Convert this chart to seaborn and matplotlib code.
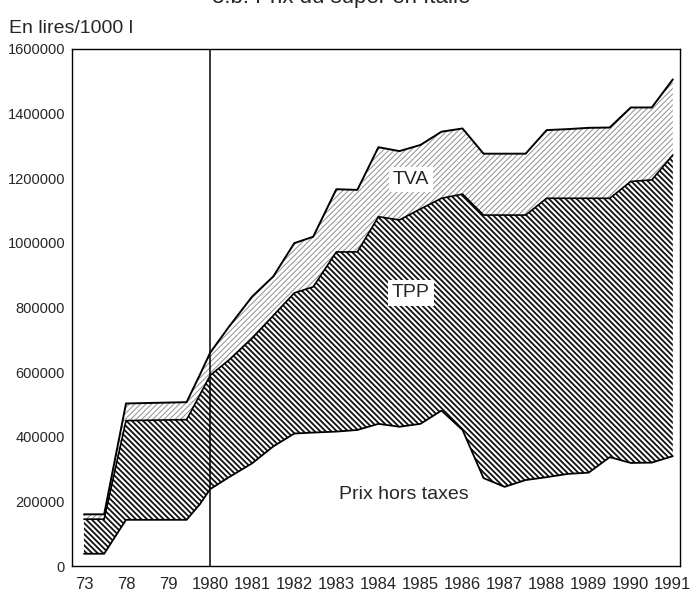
import numpy as np
import pandas as pd
import seaborn as sns
import matplotlib.pyplot as plt
from matplotlib.ticker import MultipleLocator

# ------------------ data (lires / 1000 l) ------------------
# x = position on the axis, one unit per labelled tick
tick_labels = ['73', '78', '79', '1980', '1981', '1982', '1983', '1984',
               '1985', '1986', '1987', '1988', '1989', '1990', '1991']
x = [0, 0.48, 1.0, 2.44, 2.76, 3.0, 3.45, 4.0, 4.5, 5.0, 5.45, 6.0, 6.5, 7.0,
     7.5, 8.0, 8.5, 9.0, 9.5, 10.0, 10.5, 11.0, 11.5, 12.0, 12.5, 13.0, 13.5, 14.0]
prix_ht = [38000, 38000, 143000, 143000, 192000, 238000, 275000, 318000, 370000,
           410000, 413000, 416000, 421000, 440000, 431000, 440000, 481000, 421000,
           272000, 245000, 266000, 275000, 285000, 289000, 337000, 319000, 320000,
           340000]
avec_tpp = [145000, 145000, 450000, 453000, 531000, 590000, 638000, 705000,
            775000, 845000, 864000, 972000, 972000, 1081000, 1071000, 1105000,
            1138000, 1151000, 1086000, 1086000, 1086000, 1138000, 1138000, 1138000,
            1138000, 1190000, 1195000, 1272000]
avec_tva = [160000, 160000, 503000, 507000, 593000, 660000, 741000, 834000,
            896000, 999000, 1019000, 1166000, 1164000, 1296000, 1284000, 1303000,
            1344000, 1354000, 1276000, 1276000, 1276000, 1349000, 1352000, 1356000,
            1357000, 1419000, 1419000, 1506000]

df = pd.DataFrame({'x': x, 'prix': prix_ht, 'tpp': avec_tpp, 'tva': avec_tva})

sns.set_theme(style='white')
plt.rcParams['font.family'] = ['Liberation Sans', 'DejaVu Sans']
plt.rcParams['axes.edgecolor'] = 'black'
plt.rcParams['axes.linewidth'] = 1.0

fig = plt.figure(figsize=(6.9, 5.96), dpi=100)
ax = fig.add_axes([0.1043, 0.0503, 0.8812, 0.8675])

# hatched areas
plt.rcParams['hatch.linewidth'] = 1.3
ax.fill_between(df['x'], df['prix'], df['tpp'], facecolor='white',
                edgecolor='#111111', hatch='\\\\\\\\\\\\', linewidth=0)
plt.rcParams['hatch.linewidth'] = 0.7
ax.fill_between(df['x'], df['tpp'], df['tva'], facecolor='white',
                edgecolor='#8f8f8f', hatch='//////', linewidth=0)

# boundaries
sns.lineplot(data=df, x='x', y='tva', color='black', lw=1.4, ax=ax, estimator=None)
sns.lineplot(data=df, x='x', y='tpp', color='black', lw=1.2, ax=ax, estimator=None)
sns.lineplot(data=df, x='x', y='prix', color='black', lw=1.3, ax=ax, estimator=None)
ax.axvline(3, color='black', lw=1.1)

ax.set_xlim(-0.285, 14.17)
ax.set_ylim(0, 1600000)
ax.set_xticks(range(len(tick_labels)))
ax.set_xticklabels(tick_labels, fontsize=12)
ax.xaxis.set_minor_locator(MultipleLocator(0.5))
ax.set_yticks(range(0, 1600001, 200000))
ax.set_yticklabels([str(v) for v in range(0, 1600001, 200000)], fontsize=10.5)
ax.tick_params(axis='both', which='both', direction='out', length=4, width=1,
               color='black', pad=4)
ax.tick_params(axis='y', pad=1)
ax.set_xlabel('')
ax.set_ylabel('')
for s in ax.spines.values():
    s.set_visible(True)
    s.set_color('black')

# labels inside the chart
box = dict(facecolor='white', edgecolor='none', pad=3)
ax.text(7.77, 1195000, 'TVA', fontsize=14, ha='center', va='center', bbox=box)
ax.text(7.77, 845000, 'TPP', fontsize=14, ha='center', va='center', bbox=box)
ax.text(7.6, 220000, 'Prix hors taxes', fontsize=14, ha='center', va='center')

fig.text(0.013, 0.953, 'En lires/1000 l', fontsize=14, ha='left', va='center')
fig.text(0.495, 1.004, '3.b. Prix du super en Italie', fontsize=16,
         ha='center', va='center')

fig.savefig('out.png', dpi=100)
